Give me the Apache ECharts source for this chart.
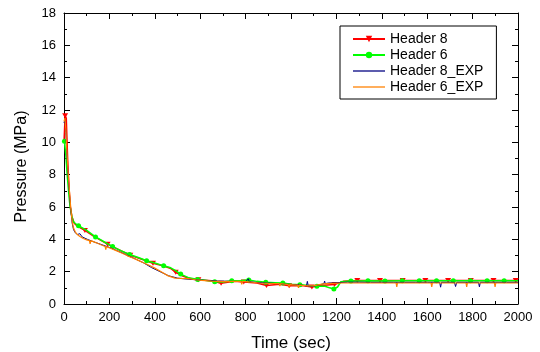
<!DOCTYPE html>
<html>
<head>
<meta charset="utf-8">
<script src="https://cdn.jsdelivr.net/npm/echarts@6/dist/echarts.min.js"></script>
<style>html,body{margin:0;padding:0;background:#fff}#c{width:540px;height:352px}</style>
</head>
<body>
<div id="c"></div>
<script>
// Header 8 (simulation)
var h8Time = [0,5,10,16,22,28,35,45,60,92,130,192,250,292,340,392,440,470,492,520,560,592,650,692,750,792,850,892,950,992,1050,1092,1130,1192,1230,1292,1392,1492,1592,1692,1792,1892,1990,2000];
var h8P    = [10.0,11.64,11.5,9.0,7.2,6.0,5.4,5.0,4.8,4.55,4.2,3.7,3.3,3.02,2.78,2.52,2.35,2.2,1.96,1.75,1.55,1.5,1.44,1.28,1.4,1.36,1.3,1.15,1.22,1.13,1.15,1.05,1.15,1.2,1.4,1.46,1.46,1.45,1.45,1.45,1.45,1.45,1.45,1.45];
var h8Marks = [5,92,192,292,392,492,592,692,792,892,992,1092,1192,1292,1392,1492,1592,1692,1792,1892,1990];
// Header 6 (simulation)
var h6Time = [2,8,14,20,26,34,41,50,64,100,139,180,214,250,289,330,364,400,439,470,490,514,550,589,630,664,700,739,780,814,850,889,930,964,1000,1039,1080,1114,1150,1170,1189,1205,1220,1264,1300,1339,1414,1490,1565,1641,1715,1791,1864,1939,2000];
var h6P    = [10.06,9.2,8.0,7.0,6.1,5.45,5.1,4.98,4.84,4.55,4.15,3.82,3.55,3.3,3.06,2.86,2.68,2.54,2.36,2.24,2.08,1.85,1.62,1.52,1.46,1.38,1.36,1.44,1.46,1.48,1.4,1.34,1.32,1.3,1.22,1.19,1.14,1.1,1.1,1.0,0.93,1.05,1.38,1.43,1.43,1.44,1.43,1.44,1.44,1.44,1.44,1.44,1.44,1.44,1.44];
var h6Marks = [2,64,139,214,289,364,439,514,589,664,739,814,889,964,1039,1114,1189,1264,1339,1414,1490,1565,1641,1715,1791,1864,1939];
// Header 8_EXP
var e8Time = [0,4,8,12,18,24,30,36,42,50,60,70,80,103,130,160,200,250,300,350,386,423,460,500,533,580,620,680,740,800,808,812,816,860,920,980,1040,1068,1072,1076,1100,1130,1145,1148,1151,1165,1168,1171,1200,1250,1300,1350,1400,1450,1500,1550,1600,1655,1659,1663,1720,1725,1730,1826,1830,1834,1900,1950,2000];
var e8P    = [11.2,11.4,10.6,9.4,8.0,6.8,5.8,5.0,4.6,4.4,4.3,4.35,4.15,4.0,3.85,3.7,3.5,3.2,2.88,2.55,2.25,2.0,1.75,1.6,1.55,1.5,1.46,1.42,1.4,1.38,1.38,1.56,1.38,1.32,1.28,1.22,1.18,1.12,1.4,1.12,1.1,1.2,1.26,1.42,1.26,1.3,1.42,1.3,1.32,1.35,1.35,1.34,1.34,1.34,1.34,1.34,1.34,1.34,1.04,1.34,1.34,1.08,1.34,1.34,1.06,1.34,1.34,1.34,1.34];
// Header 6_EXP
var e6Time = [0,4,8,12,18,24,30,36,42,50,60,70,85,100,112,115,118,140,160,181,184,187,210,230,254,280,300,327,350,375,400,430,459,489,520,548,580,607,650,700,750,780,783,786,820,860,900,948,951,954,988,991,994,1030,1033,1036,1070,1098,1142,1180,1229,1300,1400,1463,1466,1469,1560,1617,1620,1623,1700,1771,1774,1777,1850,1896,1899,1902,2000];
var e6P    = [11.3,11.5,10.8,9.6,8.2,7.0,5.9,5.1,4.7,4.45,4.28,4.18,4.05,3.97,3.92,3.72,3.92,3.8,3.68,3.56,3.36,3.55,3.42,3.3,3.15,2.98,2.86,2.7,2.55,2.4,2.22,1.98,1.74,1.6,1.58,1.57,1.5,1.46,1.42,1.38,1.4,1.4,1.22,1.4,1.36,1.3,1.28,1.26,1.1,1.26,1.2,1.05,1.2,1.17,1.0,1.17,1.13,1.12,1.24,1.28,1.3,1.3,1.3,1.3,1.05,1.3,1.3,1.3,1.05,1.3,1.3,1.3,1.05,1.3,1.3,1.3,1.05,1.3,1.3];

var xTicks = {min: 0, max: 2000, interval: 200};
var yTicks = {min: 0, max: 18, interval: 2};

function build(ts, ps, marks) {
  return ts.map(function (t, i) {
    var item = {value: [t, ps[i]]};
    if (marks && marks.indexOf(t) < 0) item.symbol = 'none';
    return item;
  });
}

var FONT = 'Liberation Sans, Arial, sans-serif';
var LINE_ICON = 'path://M0,0H40V1.6H0Z';
var chart = echarts.init(document.getElementById('c'), null, {renderer: 'canvas'});
var axisBase = {
  axisLine: {show: true, onZero: false, lineStyle: {color: '#000', width: 1}},
  axisTick: {show: true, inside: true, length: 6, lineStyle: {color: '#000'}},
  minorTick: {show: true, splitNumber: 2, length: 3, lineStyle: {color: '#000'}},
  splitLine: {show: false}
};
chart.setOption({
  animation: false,
  backgroundColor: '#fff',
  grid: {left: 64, right: 22, top: 13, bottom: 48, containLabel: false, outerBoundsMode: 'none'},
  legend: {
    orient: 'vertical', left: 340, top: 26,
    padding: [5, 13, 4, 12], itemGap: 0, itemWidth: 32, itemHeight: 8,
    borderColor: '#000', borderWidth: 1, backgroundColor: '#fff',
    textStyle: {fontFamily: FONT, fontSize: 14, color: '#000', lineHeight: 16},
    data: [
      {name: 'Header 8'},
      {name: 'Header 6'},
      {name: 'Header 8_EXP', icon: LINE_ICON},
      {name: 'Header 6_EXP', icon: LINE_ICON}
    ]
  },
  xAxis: [
    Object.assign({
      type: 'value', min: xTicks.min, max: xTicks.max, interval: xTicks.interval,
      name: 'Time (sec)', nameLocation: 'middle', nameGap: 31,
      nameTextStyle: {fontFamily: FONT, fontSize: 17, color: '#000'},
      axisLabel: {fontFamily: FONT, fontSize: 13, color: '#000', margin: 7,
        formatter: function (v) { return String(v); }}
    }, axisBase),
    Object.assign({
      type: 'value', position: 'top', min: xTicks.min, max: xTicks.max, interval: xTicks.interval,
      axisLabel: {show: false}
    }, axisBase)
  ],
  yAxis: [
    Object.assign({
      type: 'value', min: yTicks.min, max: yTicks.max, interval: yTicks.interval,
      name: 'Pressure (MPa)', nameLocation: 'middle', nameGap: 34,
      nameTextStyle: {fontFamily: FONT, fontSize: 16, color: '#000', padding: [0, 16, 0, 0]},
      axisLabel: {fontFamily: FONT, fontSize: 13, color: '#000', margin: 8}
    }, axisBase),
    Object.assign({
      type: 'value', position: 'right', min: yTicks.min, max: yTicks.max, interval: yTicks.interval,
      axisLabel: {show: false}
    }, axisBase)
  ],
  series: [
    {
      name: 'Header 8', type: 'line', data: build(h8Time, h8P, h8Marks),
      symbol: 'path://M0,0L10,0L5,9Z', symbolSize: [6, 5], showSymbol: true,
      lineStyle: {color: '#ff0000', width: 1.5}, itemStyle: {color: '#ff0000'}, z: 2
    },
    {
      name: 'Header 6', type: 'line', data: build(h6Time, h6P, h6Marks),
      symbol: 'circle', symbolSize: 5, showSymbol: true,
      lineStyle: {color: '#00ff00', width: 1.5}, itemStyle: {color: '#00ff00'}, z: 3
    },
    {
      name: 'Header 8_EXP', type: 'line', data: build(e8Time, e8P, null),
      symbol: 'none', lineStyle: {color: '#000080', width: 1}, itemStyle: {color: '#000080'}, z: 4
    },
    {
      name: 'Header 6_EXP', type: 'line', data: build(e6Time, e6P, null),
      symbol: 'none', lineStyle: {color: '#ff8000', width: 1.2}, itemStyle: {color: '#ff8000'}, z: 5
    }
  ]
});
</script>
</body>
</html>
